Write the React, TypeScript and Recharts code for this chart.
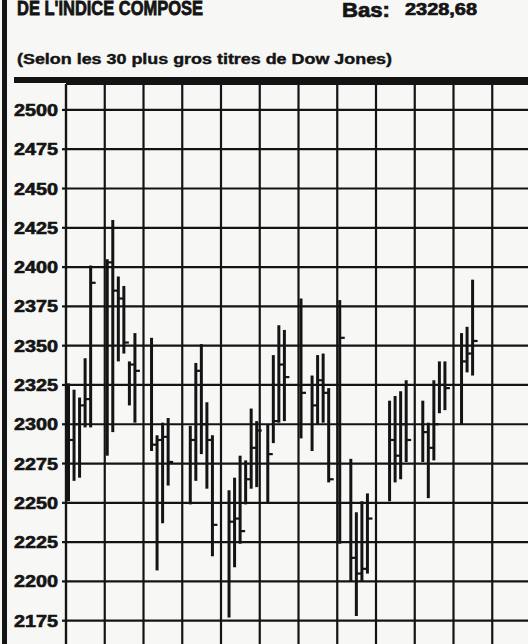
import { ComposedChart, Bar, XAxis, YAxis, CartesianGrid } from 'recharts';

// trading sessions, as day slots counted from the left edge of the grid (7 slots per column)
const days = [0, 1, 2, 3, 4, 7, 8, 9, 10, 11, 12, 15, 16, 17, 18, 22, 23, 24, 25, 26, 29, 30, 31, 32, 33, 34, 36, 37, 38, 39, 42, 44, 45, 46, 47, 49, 51, 52, 53, 54, 58, 59, 60, 61, 64, 65, 66, 67, 68, 71, 72, 73];
const highs = [2326, 2322, 2317, 2342, 2401, 2405, 2430, 2394, 2388, 2340, 2358, 2355, 2293, 2301, 2304, 2299, 2339, 2351, 2314, 2293, 2258, 2266, 2280, 2277, 2310, 2302, 2300, 2344, 2363, 2360, 2380, 2331, 2344, 2345, 2323, 2379, 2278, 2244, 2251, 2256, 2315, 2318, 2321, 2328, 2315, 2301, 2328, 2340, 2340, 2358, 2362, 2392];
const lows = [2251, 2264, 2266, 2298, 2298, 2280, 2295, 2340, 2345, 2312, 2301, 2283, 2207, 2237, 2261, 2249, 2264, 2281, 2259, 2216, 2177, 2209, 2224, 2249, 2259, 2260, 2250, 2288, 2301, 2302, 2291, 2283, 2300, 2301, 2263, 2224, 2200, 2178, 2200, 2205, 2251, 2263, 2265, 2276, 2276, 2253, 2277, 2307, 2309, 2300, 2333, 2331];
const closes = [2290, 2300, 2312, 2316, 2390, 2403, 2385, 2380, 2352, 2338, 2334, 2287, 2290, 2292, 2276, 2290, 2334, 2300, 2290, 2236, 2238, 2240, 2232, 2265, 2285, 2296, 2281, 2302, 2338, 2330, 2320, 2312, 2328, 2320, 2265, 2355, 2215, 2205, 2208, 2240, 2290, 2280, 2300, 2290, 2295, 2285, 2300, 2325, 2323, 2340, 2345, 2353];

const yTicks = [2175, 2200, 2225, 2250, 2275, 2300, 2325, 2350, 2375, 2400, 2425, 2450, 2475, 2500];
const weekTicks = [-0.5, 6.5, 13.5, 20.5, 27.5, 34.5, 41.5, 48.5, 55.5, 62.5, 69.5, 76.5, 83.5];
const xDomain = [-0.5, 83.5];

const data = days.map((d, i) => ({
  day: d,
  range: [lows[i], highs[i]],
  high: highs[i],
  low: lows[i],
  close: closes[i],
}));

const ink = '#141414';
const font = '"Liberation Sans", Arial, Helvetica, sans-serif';

function HlcBar(props: any) {
  const { x, y, width, height, payload } = props;
  if (x == null || y == null) return null;
  const top = Math.min(y, y + height);
  const h = Math.abs(height);
  const cx = x + width / 2;
  const yc = top + ((payload.high - payload.close) / (payload.high - payload.low)) * h;
  return (
    <g>
      <line x1={cx} x2={cx} y1={top} y2={top + h} stroke={ink} strokeWidth={3} />
      <line x1={cx} x2={cx + 5} y1={yc} y2={yc} stroke={ink} strokeWidth={2.2} />
    </g>
  );
}

function YTick(props: any) {
  const { x, y, payload } = props;
  return (
    <text
      x={x - 2}
      y={y + 6}
      textAnchor="end"
      fontFamily={font}
      fontWeight={700}
      fontSize={16}
      fill={ink}
      stroke={ink}
      strokeWidth={0.6}
      textLength={44}
      lengthAdjust="spacingAndGlyphs"
    >
      {payload.value}
    </text>
  );
}

// vertical week lines: use the axis scale when it is handed over, else the plot offset
function weekLines(args: any) {
  const sc = args?.xAxis?.scale;
  if (typeof sc === 'function') return weekTicks.map((t) => sc(t));
  if (sc && typeof sc.map === 'function') return weekTicks.map((t) => sc.map(t));
  const off = args?.offset ?? { left: 66, width: 465 };
  return weekTicks.map((t) => off.left + ((t - xDomain[0]) / (xDomain[1] - xDomain[0])) * off.width);
}

export default function App() {
  return (
    <div
      style={{
        position: 'fixed',
        left: 0,
        top: 0,
        width: 528,
        height: 644,
        overflow: 'hidden',
        background: '#f7f7f5',
      }}
    >
      <div style={{ position: 'absolute', left: 0, top: 0 }}>
        <ComposedChart width={531} height={660} data={data} margin={{ top: 84, right: 0, bottom: 0, left: 0 }}>
          <CartesianGrid stroke={ink} strokeWidth={2.2} verticalCoordinatesGenerator={weekLines} />
          <XAxis
            type="number"
            dataKey="day"
            domain={xDomain}
            ticks={weekTicks}
            height={0}
            tick={false}
            tickLine={false}
            axisLine={false}
            allowDataOverflow
          />
          <YAxis
            type="number"
            domain={[2150, 2516.5]}
            ticks={yTicks}
            width={66}
            tick={<YTick />}
            tickSize={4}
            tickLine={{ stroke: ink, strokeWidth: 2.2 }}
            axisLine={{ stroke: ink, strokeWidth: 2.2 }}
            allowDataOverflow
          />
          <Bar dataKey="range" barSize={3} shape={<HlcBar />} isAnimationActive={false} />
        </ComposedChart>
      </div>
      <svg width={528} height={644} style={{ position: 'absolute', left: 0, top: 0 }}>
        <rect x={2} y={0} width={5} height={644} fill={ink} />
        <rect x={14} y={77} width={514} height={6} fill={ink} />
        <text x={17} y={15} fontFamily={font} fontWeight={700} fontSize={20} fill={ink} stroke={ink} strokeWidth={0.8} textLength={186} lengthAdjust="spacingAndGlyphs">
          DE L'INDICE COMPOSE
        </text>
        <text x={342} y={17} fontFamily={font} fontWeight={700} fontSize={20} fill={ink} stroke={ink} strokeWidth={0.7} textLength={48} lengthAdjust="spacingAndGlyphs">
          Bas:
        </text>
        <text x={405} y={15} fontFamily={font} fontWeight={700} fontSize={17} fill={ink} stroke={ink} strokeWidth={0.7} textLength={72} lengthAdjust="spacingAndGlyphs">
          2328,68
        </text>
        <text x={17} y={64} fontFamily={font} fontWeight={700} fontSize={14} fill={ink} stroke={ink} strokeWidth={0.4} textLength={375} lengthAdjust="spacingAndGlyphs">
          (Selon les 30 plus gros titres de Dow Jones)
        </text>
      </svg>
    </div>
  );
}
